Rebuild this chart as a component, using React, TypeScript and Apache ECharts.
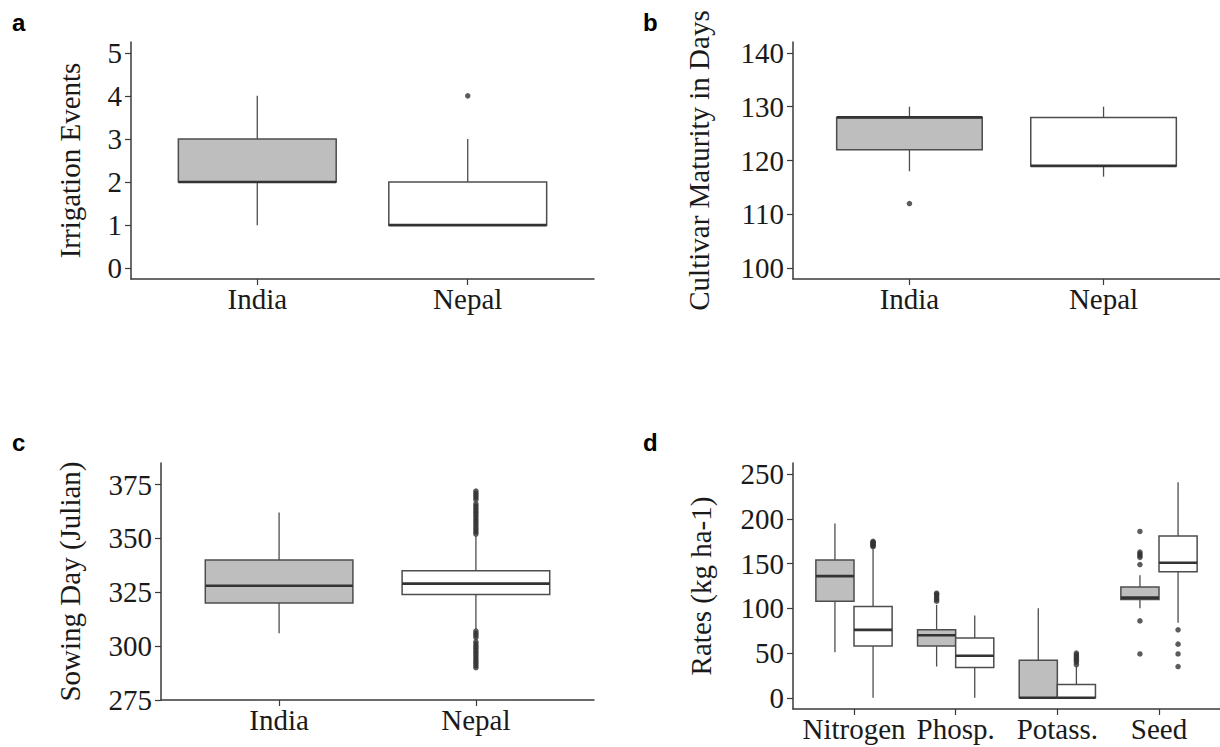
import React, { useEffect, useRef } from "react";
import * as echarts from "echarts";

// ---------- data ----------
const countryCategories = ["India", "Nepal"];
const nutrientCategories = ["Nitrogen", "Phosp.", "Potass.", "Seed"];

// [lower whisker, Q1, median, Q3, upper whisker]
const irrigationStats = [
  [1, 2, 2, 3, 4],
  [1, 1, 1, 2, 3],
];
const irrigationOutliers = [[], [4]];

const maturityStats = [
  [118, 122, 128, 128, 130],
  [117, 119, 119, 128, 130],
];
const maturityOutliers = [[112], []];

const sowingStats = [
  [306, 320, 328, 340, 362],
  [308, 324, 329, 335, 351],
];
const sowingOutliers = [
  [],
  [
    352, 353, 354, 355, 356, 357, 358, 359, 360, 361, 362, 363, 364, 365, 366,
    368, 369, 370, 371, 372, 290, 291, 292, 293, 294, 295, 296, 297, 298, 299,
    300, 301, 302, 304, 305, 306, 307,
  ],
];

const indiaRateStats = [
  [51, 108, 136, 154, 195],
  [35, 58, 70, 76, 104],
  [0, 0, 0, 42, 100],
  [100, 110, 112, 124, 137],
];
const nepalRateStats = [
  [0, 58, 76, 102, 166],
  [0, 34, 47, 67, 92],
  [0, 0, 0, 15, 35],
  [84, 141, 151, 181, 241],
];
const indiaRateOutliers = [
  [],
  [108, 110, 112, 114, 116, 117],
  [],
  [186, 163, 161, 159, 157, 149, 86, 49],
];
const nepalRateOutliers = [
  [169, 170, 171, 172, 173, 174, 175],
  [],
  [37, 40, 42, 44, 46, 48, 50],
  [76, 60, 49, 35],
];

const irrigationTicks = [0, 1, 2, 3, 4, 5];
const maturityTicks = [100, 110, 120, 130, 140];
const sowingTicks = [275, 300, 325, 350, 375];
const rateTicks = [0, 50, 100, 150, 200, 250];

// ---------- styles ----------
const SERIF = '"Liberation Serif", "Times New Roman", serif';
const FONT_SIZE = 29;
const AXIS_COLOR = "#3a3a3a";
const TEXT_COLOR = "#1a1a1a";
const BOX_STROKE = "#4d4d4d";
const MEDIAN_STROKE = "#333333";
const INDIA_FILL = "#bebebe";
const NEPAL_FILL = "#ffffff";
const POINT_COLOR = "#333333";

function boxRender(fill: string) {
  return (params: any, api: any) => {
    const x = api.value(0);
    const lo = api.value(1);
    const q1 = api.value(2);
    const med = api.value(3);
    const q3 = api.value(4);
    const hi = api.value(5);
    const w = api.value(6);
    const pLo = api.coord([x, lo]);
    const pQ1 = api.coord([x, q1]);
    const pMed = api.coord([x, med]);
    const pQ3 = api.coord([x, q3]);
    const pHi = api.coord([x, hi]);
    const half = api.size([w, 0])[0] / 2;
    const cx = pMed[0];
    const children: any[] = [];
    if (hi > q3)
      children.push({
        type: "line",
        shape: { x1: cx, y1: pHi[1], x2: cx, y2: pQ3[1] },
        style: { stroke: BOX_STROKE, lineWidth: 1.3 },
      });
    if (lo < q1)
      children.push({
        type: "line",
        shape: { x1: cx, y1: pQ1[1], x2: cx, y2: pLo[1] },
        style: { stroke: BOX_STROKE, lineWidth: 1.3 },
      });
    children.push({
      type: "rect",
      shape: { x: cx - half, y: pQ3[1], width: half * 2, height: pQ1[1] - pQ3[1] },
      style: { fill, stroke: BOX_STROKE, lineWidth: 1.5 },
    });
    children.push({
      type: "line",
      shape: { x1: cx - half, y1: pMed[1], x2: cx + half, y2: pMed[1] },
      style: { stroke: MEDIAN_STROKE, lineWidth: 2.6 },
    });
    return { type: "group", children };
  };
}

function boxSeries(idx: number, stats: number[][], offset: number, width: number, fill: string) {
  return {
    type: "custom",
    xAxisIndex: idx,
    yAxisIndex: idx,
    renderItem: boxRender(fill),
    encode: { x: 0, y: [1, 2, 3, 4, 5] },
    data: stats.map((s, i) => [i + 1 + offset, ...s, width]),
    z: 2,
  };
}

function outlierSeries(idx: number, outliers: number[][], offset: number) {
  const data: number[][] = [];
  outliers.forEach((vals, i) => vals.forEach((v) => data.push([i + 1 + offset, v])));
  return {
    type: "scatter",
    xAxisIndex: idx,
    yAxisIndex: idx,
    symbol: "circle",
    symbolSize: 5.5,
    itemStyle: { color: POINT_COLOR },
    data,
    z: 3,
  };
}

function xAxis(idx: number, cats: string[]) {
  const vals = cats.map((_, i) => i + 1);
  return {
    type: "value",
    gridIndex: idx,
    min: 0.4,
    max: cats.length + 0.6,
    splitLine: { show: false },
    axisLine: { show: true, onZero: false, lineStyle: { color: AXIS_COLOR, width: 1.5 } },
    axisTick: { show: true, length: 6, customValues: vals, lineStyle: { color: AXIS_COLOR, width: 1.2 } },
    axisLabel: {
      customValues: vals,
      formatter: (v: number) => cats[Math.round(v) - 1] ?? "",
      fontFamily: SERIF,
      fontSize: FONT_SIZE,
      color: TEXT_COLOR,
      margin: 5,
    },
  };
}

function yAxis(idx: number, min: number, max: number, ticks: number[], name: string, gap: number) {
  return {
    type: "value",
    gridIndex: idx,
    min,
    max,
    name,
    nameLocation: "middle",
    nameGap: gap,
    nameTextStyle: { fontFamily: SERIF, fontSize: FONT_SIZE, color: TEXT_COLOR },
    splitLine: { show: false },
    axisLine: { show: true, onZero: false, lineStyle: { color: AXIS_COLOR, width: 1.5 } },
    axisTick: { show: true, length: 6, customValues: ticks, lineStyle: { color: AXIS_COLOR, width: 1.2 } },
    axisLabel: {
      customValues: ticks,
      fontFamily: SERIF,
      fontSize: FONT_SIZE,
      color: TEXT_COLOR,
      margin: 9,
    },
  };
}

function panelLetter(text: string, left: number, top: number) {
  return {
    type: "text",
    left,
    top,
    style: { text, font: 'bold 24px "Liberation Sans", Arial, sans-serif', fill: "#000" },
  };
}

export default function App() {
  const ref = useRef<HTMLDivElement>(null);
  useEffect(() => {
    if (!ref.current) return;
    const chart = echarts.init(ref.current, undefined, { renderer: "svg" });
    const option: any = {
      animation: false,
      backgroundColor: "#ffffff",
      grid: [
        { left: 131, top: 42, width: 463, height: 237 },
        { left: 793, top: 42, width: 427, height: 237 },
        { left: 161, top: 463, width: 433, height: 237 },
        { left: 793, top: 463, width: 427, height: 246 },
      ],
      xAxis: [
        xAxis(0, countryCategories),
        xAxis(1, countryCategories),
        xAxis(2, countryCategories),
        xAxis(3, nutrientCategories),
      ],
      yAxis: [
        yAxis(0, -0.25, 5.25, irrigationTicks, "Irrigation Events", 47),
        yAxis(1, 98, 142, maturityTicks, "Cultivar Maturity in Days", 80),
        yAxis(2, 275, 385, sowingTicks, "Sowing Day (Julian)", 77),
        yAxis(3, -12.5, 262.5, rateTicks, "Rates (kg ha-1)", 78),
      ],
      series: [
        boxSeries(0, [irrigationStats[0]], 0, 0.75, INDIA_FILL),
        boxSeries(0, [irrigationStats[1]], 1, 0.75, NEPAL_FILL),
        outlierSeries(0, irrigationOutliers, 0),
        boxSeries(1, [maturityStats[0]], 0, 0.75, INDIA_FILL),
        boxSeries(1, [maturityStats[1]], 1, 0.75, NEPAL_FILL),
        outlierSeries(1, maturityOutliers, 0),
        boxSeries(2, [sowingStats[0]], 0, 0.75, INDIA_FILL),
        boxSeries(2, [sowingStats[1]], 1, 0.75, NEPAL_FILL),
        outlierSeries(2, sowingOutliers, 0),
        boxSeries(3, indiaRateStats, -0.1875, 0.375, INDIA_FILL),
        boxSeries(3, nepalRateStats, 0.1875, 0.375, NEPAL_FILL),
        outlierSeries(3, indiaRateOutliers, -0.1875),
        outlierSeries(3, nepalRateOutliers, 0.1875),
      ],
      graphic: [
        panelLetter("a", 12, 10),
        panelLetter("b", 643, 10),
        panelLetter("c", 12, 430),
        panelLetter("d", 643, 430),
      ],
    };
    chart.setOption(option);
    return () => chart.dispose();
  }, []);
  return (
    <div
      ref={ref}
      style={{ position: "absolute", left: 0, top: 0, width: 1220, height: 747, background: "#fff" }}
    />
  );
}
